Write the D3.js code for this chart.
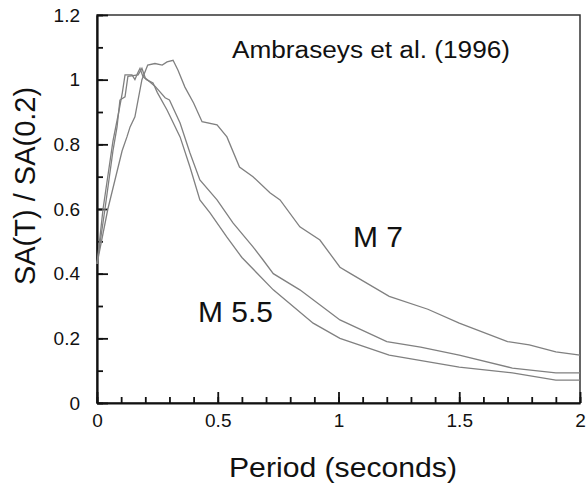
<!DOCTYPE html>
<html>
<head>
<meta charset="utf-8">
<script src="https://cdn.jsdelivr.net/npm/d3@7"></script>
<style>
  body { margin: 0; background: #fff; }
  text { font-family: "Liberation Sans", Arial, sans-serif; fill: #111; }
  .curve { fill: none; stroke: #808080; stroke-width: 1.3; }
</style>
</head>
<body>
<div id="chart"></div>
<script>
// spectral shape curves: [period (s), SA(T)/SA(0.2)]
const m55 = [
    [0, 0.43], [0.025, 0.60], [0.066, 0.81], [0.09, 0.90], [0.105, 0.96], [0.116, 1.015],
    [0.145, 1.015], [0.157, 1.0], [0.168, 1.02], [0.178, 1.035], [0.19, 1.01], [0.205, 1.0],
    [0.232, 0.99], [0.25, 0.96], [0.29, 0.906], [0.344, 0.823], [0.385, 0.73], [0.426, 0.628],
    [0.468, 0.588], [0.538, 0.513], [0.6, 0.45], [0.73, 0.35], [0.895, 0.247], [1.006, 0.20],
    [1.21, 0.148], [1.5, 0.111], [1.72, 0.093], [1.9, 0.071], [2.0, 0.071]
];
const m625 = [
    [0, 0.43], [0.033, 0.60], [0.066, 0.78], [0.083, 0.854], [0.095, 0.937], [0.116, 0.947],
    [0.128, 1.01], [0.17, 1.015], [0.186, 1.035], [0.2, 1.005], [0.24, 0.98], [0.282, 0.944],
    [0.30, 0.937], [0.344, 0.866], [0.385, 0.773], [0.426, 0.69], [0.497, 0.628], [0.563, 0.557],
    [0.646, 0.483], [0.687, 0.443], [0.73, 0.40], [0.84, 0.35], [0.965, 0.28], [1.006, 0.257],
    [1.2, 0.19], [1.34, 0.173], [1.5, 0.148], [1.72, 0.108], [1.9, 0.093], [2.0, 0.093]
];
const m7 = [
    [0, 0.43], [0.045, 0.60], [0.104, 0.78], [0.124, 0.823], [0.137, 0.854], [0.157, 0.885],
    [0.17, 0.937], [0.186, 1.0], [0.21, 1.045], [0.24, 1.05], [0.27, 1.045], [0.29, 1.055],
    [0.315, 1.06], [0.335, 1.03], [0.364, 0.977], [0.40, 0.928], [0.435, 0.87], [0.497, 0.86],
    [0.538, 0.823], [0.59, 0.73], [0.646, 0.70], [0.716, 0.65], [0.758, 0.628], [0.84, 0.545],
    [0.923, 0.504], [1.006, 0.42], [1.05, 0.40], [1.21, 0.33], [1.37, 0.29], [1.5, 0.247],
    [1.7, 0.19], [1.79, 0.18], [1.9, 0.158], [2.0, 0.148]
];
const xTicks = [0, 0.5, 1, 1.5, 2];
const yTicks = [0, 0.2, 0.4, 0.6, 0.8, 1, 1.2];
const xMinor = d3.range(0, 2.001, 0.1);
const yMinor = d3.range(0, 1.201, 0.1);

const w = 587, h = 491;
const margin = { top: 15, right: 7, bottom: 88, left: 97 };

const svg = d3.select("#chart")
    .append("svg")
    .attr("width", w)
    .attr("height", h);

const xScale = d3.scaleLinear().domain([0, 2]).range([margin.left, w - margin.right]);
const yScale = d3.scaleLinear().domain([0, 1.2]).range([h - margin.bottom, margin.top]);

// frame (top and right)
svg.append("rect")
    .attr("x", xScale(0))
    .attr("y", yScale(1.2))
    .attr("width", xScale(2) - xScale(0))
    .attr("height", yScale(0) - yScale(1.2))
    .attr("fill", "none")
    .attr("stroke", "#333")
    .attr("stroke-width", 1.5);

// minor ticks, drawn inside the frame
const minorX = d3.axisBottom(xScale).tickValues(xMinor).tickSize(-6).tickFormat("");
const minorY = d3.axisLeft(yScale).tickValues(yMinor).tickSize(-6).tickFormat("");
svg.append("g").attr("transform", "translate(0," + yScale(0) + ")").call(minorX)
    .call(g => g.select(".domain").remove());
svg.append("g").attr("transform", "translate(" + xScale(0) + ",0)").call(minorY)
    .call(g => g.select(".domain").remove());

// major ticks + labels
const xAxis = d3.axisBottom(xScale)
    .tickValues(xTicks)
    .tickSizeInner(-11)
    .tickSizeOuter(0)
    .tickPadding(11)
    .tickFormat(d3.format("~g"));
const yAxis = d3.axisLeft(yScale)
    .tickValues(yTicks)
    .tickSizeInner(-11)
    .tickSizeOuter(0)
    .tickPadding(17)
    .tickFormat(d3.format("~g"));

svg.append("g")
    .attr("class", "axis")
    .attr("transform", "translate(0," + yScale(0) + ")")
    .call(xAxis);
svg.append("g")
    .attr("class", "axis")
    .attr("transform", "translate(" + xScale(0) + ",0)")
    .call(yAxis);

svg.selectAll(".tick line").attr("stroke", "#111").attr("stroke-width", 1.8);
svg.selectAll(".domain").attr("stroke", "#111").attr("stroke-width", 2.2);
svg.selectAll(".axis text")
    .style("font-family", "'Liberation Sans', Arial, sans-serif")
    .style("font-size", "19px")
    .attr("fill", "#111");

// curves
const line = d3.line()
    .x(d => xScale(d[0]))
    .y(d => yScale(d[1]));

[m55, m625, m7].forEach(s => {
    svg.append("path")
        .datum(s)
        .attr("class", "curve")
        .attr("d", line);
});

// annotations
svg.append("text")
    .attr("x", 232).attr("y", 58)
    .attr("textLength", 278).attr("lengthAdjust", "spacingAndGlyphs")
    .style("font-size", "23px")
    .text("Ambraseys et al. (1996)");

svg.append("text")
    .attr("x", 353).attr("y", 247)
    .attr("textLength", 50).attr("lengthAdjust", "spacingAndGlyphs")
    .style("font-size", "29px")
    .text("M 7");

svg.append("text")
    .attr("x", 198).attr("y", 322)
    .attr("textLength", 75).attr("lengthAdjust", "spacingAndGlyphs")
    .style("font-size", "29px")
    .text("M 5.5");

// axis titles
svg.append("text")
    .attr("x", 229).attr("y", 477)
    .attr("textLength", 228).attr("lengthAdjust", "spacingAndGlyphs")
    .style("font-size", "27px")
    .text("Period (seconds)");

svg.append("text")
    .attr("transform", "translate(35,186) rotate(-90)")
    .attr("text-anchor", "middle")
    .style("font-size", "29px")
    .text("SA(T) / SA(0.2)");
</script>
</body>
</html>
